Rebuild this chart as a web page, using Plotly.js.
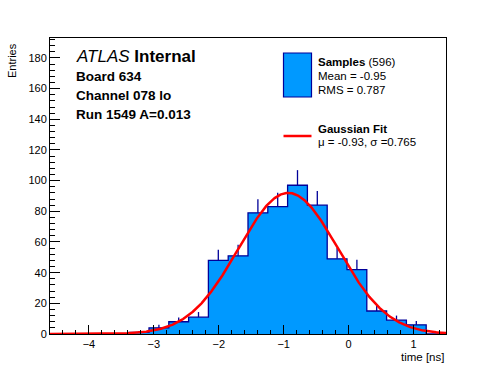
<!DOCTYPE html>
<html>
<head>
<meta charset="utf-8">
<script src="https://cdn.plot.ly/plotly-3.0.1.min.js"></script>
<style>
html,body{margin:0;padding:0;background:#fff;}
#chart{width:496px;height:372px;}
</style>
</head>
<body>
<div id="chart"></div>
<script>
// Histogram definition (time [ns])
const binLow = -4.6;
const binWidth = 0.305;
const counts = [0, 0, 0, 0, 1, 4, 8, 11, 48, 51, 79, 83, 97, 84, 49, 42, 15, 9, 6, 0];

// Gaussian fit parameters
const fitMu = -0.93;
const fitSigma = 0.765;
const fitAmp = 92;

// Axis ticks
const xTickVals = [-4, -3, -2, -1, 0, 1];
const xTickText = ['\u22124', '\u22123', '\u22122', '\u22121', '0', '1'];
const yTickVals = [0, 20, 40, 60, 80, 100, 120, 140, 160, 180];

// Text
const infoLines = ['Board 634', 'Channel 078 lo', 'Run 1549 A=0.013'];
const legendSamples = ['<b>Samples</b> (596)', 'Mean = -0.95', 'RMS = 0.787'];
const legendFit = ['<b>Gaussian Fit</b>', '\u03bc = -0.93, \u03c3 =0.765'];

const xMin = binLow, xMax = binLow + binWidth * counts.length;

// step outline
const edges = [], stepY = [];
for (let i = 0; i < counts.length; i++) { edges.push(binLow + i * binWidth); stepY.push(counts[i]); }
edges.push(xMax); stepY.push(0);

// error bars (upward)
const ex = [], ey = [], eUp = [], eDn = [];
counts.forEach((c, i) => {
  if (c > 0) { ex.push(binLow + (i + 0.5) * binWidth); ey.push(c); eUp.push(Math.sqrt(c)); eDn.push(0); }
});

// fit curve
const fx = [], fy = [];
for (let x = xMin; x <= xMax + 1e-9; x += 0.01) {
  fx.push(x); fy.push(fitAmp * Math.exp(-0.5 * Math.pow((x - fitMu) / fitSigma, 2)));
}

const blue = '#0099ff', dark = '#000099';
const F = 'Liberation Sans, Arial, Helvetica, sans-serif';

const traces = [
  { x: edges, y: stepY, type: 'scatter', mode: 'lines', line: { shape: 'hv', color: dark, width: 1.3 },
    fill: 'tozeroy', fillcolor: blue, hoverinfo: 'skip', showlegend: false },
  { x: ex, y: ey, type: 'scatter', mode: 'markers', marker: { size: 1, opacity: 0 },
    error_y: { type: 'data', symmetric: false, array: eUp, arrayminus: eDn, width: 0, thickness: 1.3, color: dark },
    showlegend: false, hoverinfo: 'skip' },
  { x: fx, y: fy, type: 'scatter', mode: 'lines', line: { color: '#ff0000', width: 2.5 }, showlegend: false, hoverinfo: 'skip' }
];

// pixel -> paper helpers (plot area 50..446 x 38..334)
const L = 50, R = 446, T = 38, B = 334;
const px = v => (v - L) / (R - L);
const py = v => (B - v) / (B - T);

const annotations = [];
annotations.push({ x: px(74), y: py(57), xref: 'paper', yref: 'paper', xanchor: 'left', yanchor: 'middle', showarrow: false,
  text: '<i>ATLAS</i> <b>Internal</b>', font: { family: F, size: 17, color: '#000' } });
infoLines.forEach((t, i) => annotations.push({ x: px(74), y: py(76 + 19 * i), xref: 'paper', yref: 'paper', xanchor: 'left', yanchor: 'middle',
  showarrow: false, text: '<b>' + t + '</b>', font: { family: F, size: 13.5, color: '#000' } }));
const lgY1 = [62, 76, 90];
legendSamples.forEach((t, i) => annotations.push({ x: px(316), y: py(lgY1[i]), xref: 'paper', yref: 'paper', xanchor: 'left', yanchor: 'middle',
  showarrow: false, text: t, font: { family: F, size: 11.5, color: '#000' } }));
const lgY2 = [129, 142];
legendFit.forEach((t, i) => annotations.push({ x: px(316), y: py(lgY2[i]), xref: 'paper', yref: 'paper', xanchor: 'left', yanchor: 'middle',
  showarrow: false, text: t, font: { family: F, size: 11.5, color: '#000' } }));
annotations.push({ x: px(12), y: py(61), xref: 'paper', yref: 'paper', xanchor: 'center', yanchor: 'middle', textangle: -90,
  showarrow: false, text: 'Entries', font: { family: F, size: 11, color: '#000' } });
annotations.push({ x: 1, y: py(357), xref: 'paper', yref: 'paper', xanchor: 'right', yanchor: 'middle',
  showarrow: false, text: 'time [ns]', font: { family: F, size: 11.5, color: '#000' } });

const shapes = [
  { type: 'rect', xref: 'paper', yref: 'paper', x0: px(283.5), x1: px(311.5), y0: py(97), y1: py(53),
    fillcolor: blue, line: { color: dark, width: 1.2 } },
  { type: 'line', xref: 'paper', yref: 'paper', x0: px(283.5), x1: px(311.5), y0: py(136), y1: py(136),
    line: { color: '#ff0000', width: 2.5 } }
];

const layout = {
  width: 496, height: 372,
  margin: { l: L, r: 496 - R, t: T, b: 372 - B, pad: 0 },
  paper_bgcolor: '#fff', plot_bgcolor: '#fff',
  showlegend: false,
  font: { family: F, size: 11, color: '#000' },
  xaxis: {
    range: [xMin, xMax], showgrid: false, zeroline: false, showline: true, linecolor: '#000', linewidth: 1, mirror: true,
    tickmode: 'array', tickvals: xTickVals, ticktext: xTickText, ticks: 'inside', ticklen: 9, tickcolor: '#000', tickwidth: 1,
    minor: { tickmode: 'linear', tick0: 0, dtick: 0.2, ticks: 'inside', ticklen: 4.5, tickcolor: '#000', tickwidth: 1, showgrid: false },
    tickfont: { family: F, size: 11, color: '#000' }
  },
  yaxis: {
    range: [0, 193], showgrid: false, zeroline: false, showline: true, linecolor: '#000', linewidth: 1, mirror: true,
    tickmode: 'array', tickvals: yTickVals, ticks: 'inside', ticklen: 9.5, tickcolor: '#000', tickwidth: 1,
    minor: { tickmode: 'linear', tick0: 0, dtick: 4, ticks: 'inside', ticklen: 4.5, tickcolor: '#000', tickwidth: 1, showgrid: false },
    tickfont: { family: F, size: 11, color: '#000' }
  },
  annotations: annotations,
  shapes: shapes
};

Plotly.newPlot('chart', traces, layout, { displayModeBar: false, staticPlot: true });
</script>
</body>
</html>
